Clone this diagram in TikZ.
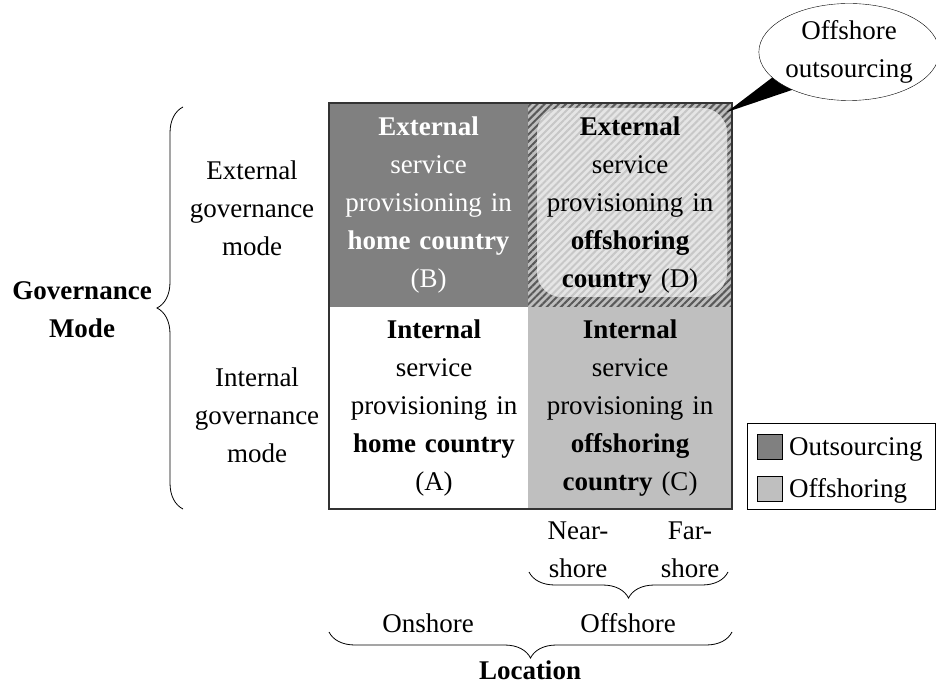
\documentclass[tikz,border=0pt]{standalone}
\usepackage{fontspec}
\setmainfont{Liberation Serif}
\usetikzlibrary{patterns.meta,shapes.geometric,decorations.pathreplacing}

\begin{document}
\begin{tikzpicture}[x=1pt, y=-1pt,
  every node/.style={font=\fontsize{27}{38}\selectfont, align=center},
  cell/.style={minimum height=203pt, inner sep=0pt, text width=195pt},
  brace/.style={decorate, decoration={brace, amplitude=26pt}, line width=0.8pt},
  swatch/.style={draw, minimum size=25pt, inner sep=0pt}]
\useasboundingbox (0,0) rectangle (936,684);
% cell backgrounds
\fill[black!50] (329,103) rectangle (528,307);
\fill[black!25] (528,307) rectangle (732,509);
\path[preaction={fill=black!25}, pattern={Lines[angle=45, distance=5pt, line width=2pt]}, pattern color=black!65] (528,103) rectangle (732,307);
\path[preaction={fill=black!10}, pattern={Lines[angle=45, distance=5pt, line width=2pt]}, pattern color=black!22, rounded corners=25pt] (537,108) rectangle (727,297);
% cell texts
\node[cell, text=white] (B) at (428.5,205) {\textbf{External}\\service\\provisioning in\\\textbf{home country}\\(B)};
\node[cell] (D) at (630,205) {\textbf{External}\\service\\provisioning in\\\textbf{offshoring}\\\textbf{country} (D)};
\node[cell] (A) at (434,408) {\textbf{Internal}\\service\\provisioning in\\\textbf{home country}\\(A)};
\node[cell] (C) at (630,408) {\textbf{Internal}\\service\\provisioning in\\\textbf{offshoring}\\\textbf{country} (C)};
\draw[line width=1.2pt, black!80] (329,103) rectangle (732,509);
% callout
\node[ellipse, minimum width=174pt, minimum height=97pt, inner sep=0pt] (callout) at (849,52) {};
\coordinate (tip) at (727,112);
\fill (callout.198) -- (tip) -- (callout.214) -- cycle;
\node[ellipse, draw, fill=white, minimum width=174pt, minimum height=97pt, inner sep=0pt] at (callout) {Offshore\\outsourcing};
% governance mode
\draw[brace] (183,509) -- (183,107);
\node (gm) at (82,310) {\textbf{Governance}\\\textbf{Mode}};
\node (ext) at (252,208) {External\\governance\\mode};
\node (int) at (257,415) {Internal\\governance\\mode};
% location
\node (near) at (578,550) {Near-\\shore};
\node (far) at (690,550) {Far-\\shore};
\draw[brace] (728,572) -- (529,572);
\node (on) at (428,623) {Onshore};
\node (off) at (628,623) {Offshore};
\draw[brace] (732,632) -- (329,632);
\node (loc) at (530,670) {\textbf{Location}};
% legend
\node[draw, minimum width=188pt, minimum height=86pt] (legend) at (841,466) {};
\node[swatch, fill=black!50] (sw1) at (770,447) {};
\node[anchor=west, inner sep=0pt] (l1) at (789,449) {Outsourcing};
\node[swatch, fill=black!25] (sw2) at (770,489) {};
\node[anchor=west, inner sep=0pt] (l2) at (789,491) {Offshoring};
\end{tikzpicture}
\end{document}
